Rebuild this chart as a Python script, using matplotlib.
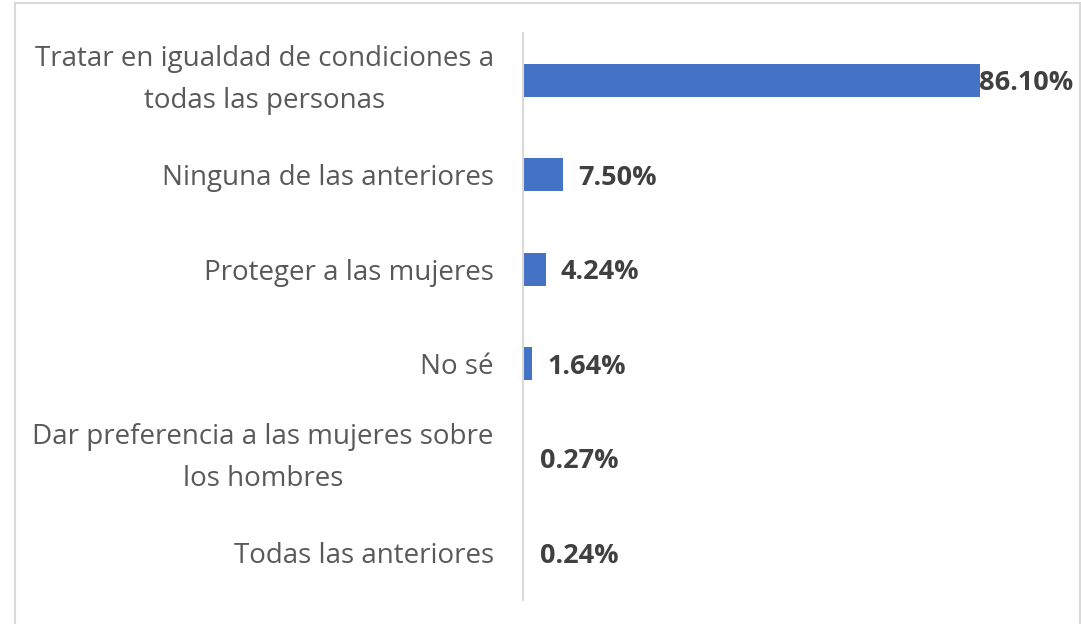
import matplotlib
matplotlib.use("Agg")
import matplotlib.pyplot as plt
from matplotlib.patches import Rectangle

categories = [
    "Tratar en igualdad de condiciones a\ntodas las personas",
    "Ninguna de las anteriores",
    "Proteger a las mujeres",
    "No sé",
    "Dar preferencia a las mujeres sobre\nlos hombres",
    "Todas las anteriores",
]
values = [86.10, 7.50, 4.24, 1.64, 0.27, 0.24]
value_labels = ["86.10%", "7.50%", "4.24%", "1.64%", "0.27%", "0.24%"]

plt.rcParams['font.family'] = ['Open Sans', 'DejaVu Sans']

W, H = 1081, 624
fig = plt.figure(figsize=(W / 100, H / 100), dpi=100)
fig.patch.set_facecolor("white")

# outer frame
fig.patches.append(Rectangle((15 / W, -0.01), (1080 - 15) / W, (H - 3) / H + 0.01,
                             transform=fig.transFigure, fill=False,
                             edgecolor="#d9d9d9", linewidth=1.5))

ax_left, ax_right = 523, 1073
ax_top, ax_bottom = 33, 600
ax = fig.add_axes([ax_left / W, 1 - ax_bottom / H, (ax_right - ax_left) / W, (ax_bottom - ax_top) / H])

n = len(categories)
ypos = list(range(n))
xmax = (ax_right - ax_left) / 5.31
ax.barh(ypos, values, height=0.35, color="#4472c4", linewidth=0)
ax.set_xlim(0, xmax)
ax.set_ylim(n - 0.5, -0.5)

ax.set_yticks(ypos)
ax.set_yticklabels(categories, fontsize=20, color="#595959",
                   multialignment="center", linespacing=1.65)
for t in ax.get_yticklabels():
    if "\n" in t.get_text():
        t.set_verticalalignment("center")
    else:
        t.set_verticalalignment("center_baseline")
ax.tick_params(axis="y", length=0, pad=21)
ax.set_xticks([])
for s in ["top", "right", "bottom"]:
    ax.spines[s].set_visible(False)
ax.spines["left"].set_color("#d9d9d9")
ax.spines["left"].set_linewidth(1.5)

for y, v, lab in zip(ypos, values, value_labels):
    if v + 25 > xmax:
        ax.annotate(lab, xy=(xmax, y), xytext=(0, 0), textcoords="offset points",
                    ha="right", va="center_baseline", fontsize=19.5, fontweight="bold", color="#404040")
    else:
        ax.annotate(lab, xy=(v, y), xytext=(11, 0), textcoords="offset points",
                    ha="left", va="center_baseline", fontsize=19.5, fontweight="bold", color="#404040")

fig.savefig("out.png", dpi=100, facecolor="white")
